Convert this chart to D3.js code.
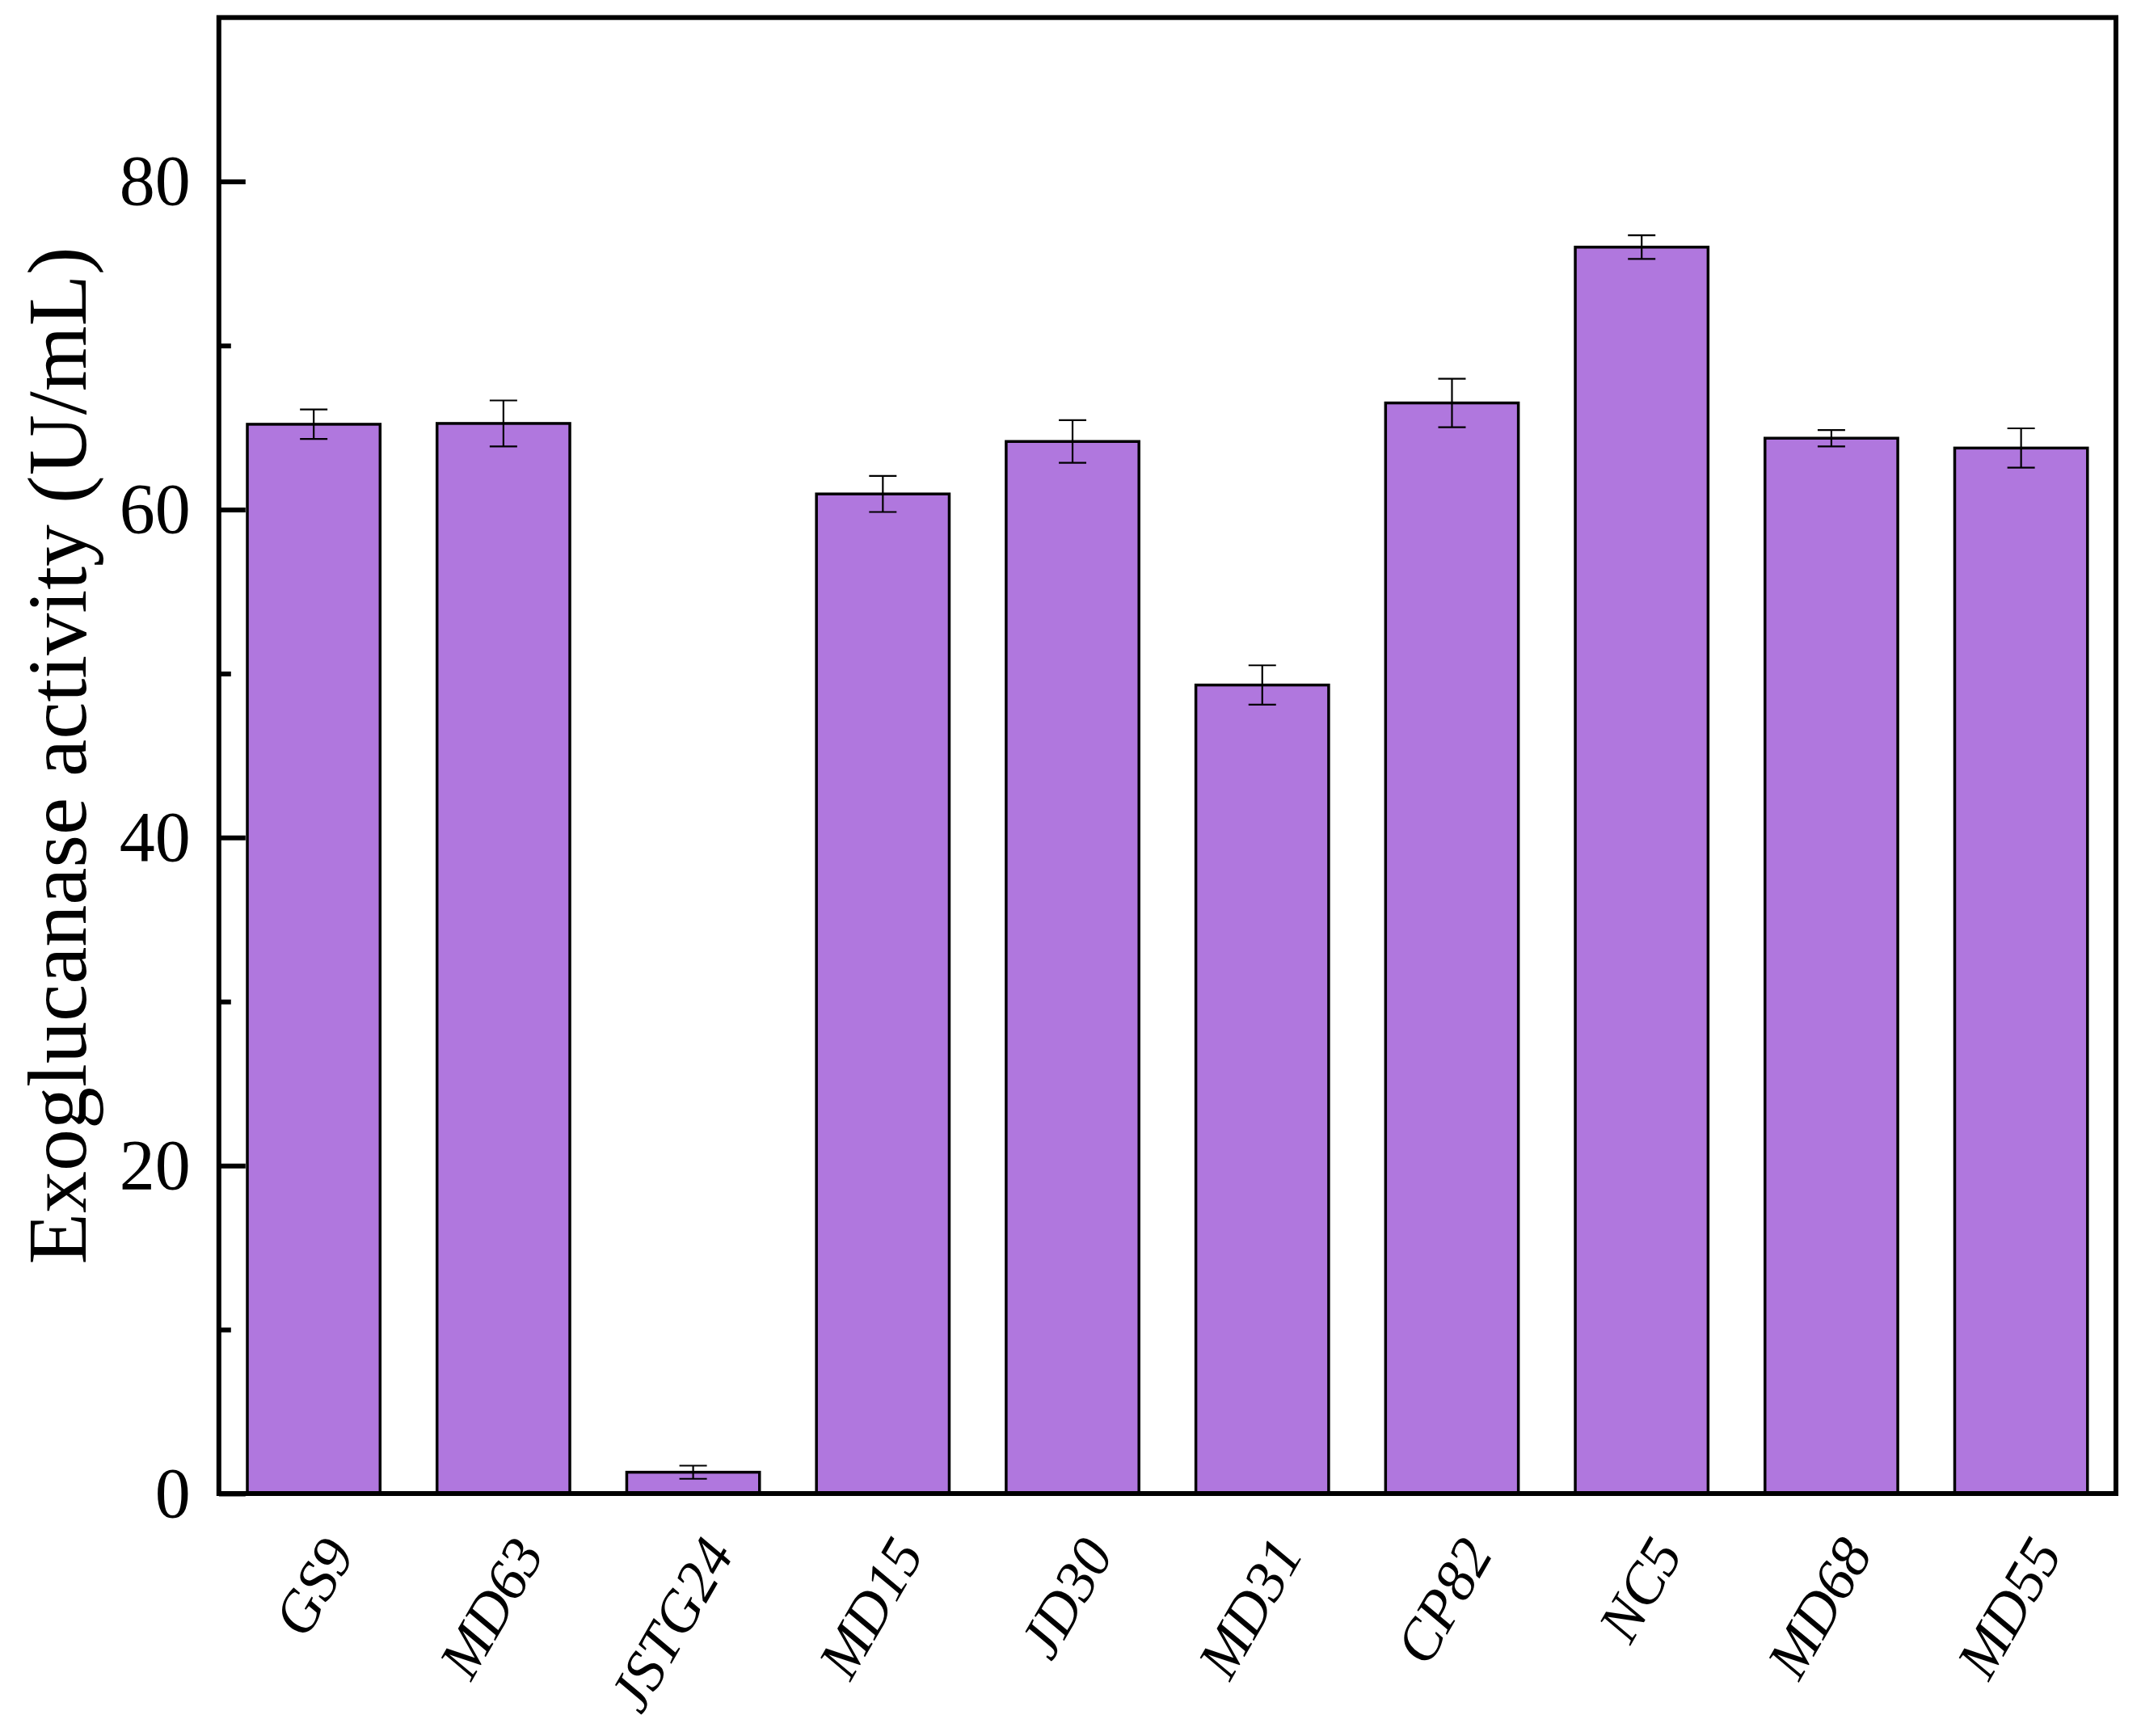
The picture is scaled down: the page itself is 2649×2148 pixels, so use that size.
<!DOCTYPE html>
<html>
<head>
<meta charset="utf-8">
<script src="https://cdn.jsdelivr.net/npm/d3@7"></script>
<style>
  html, body { margin: 0; padding: 0; background: #fff; }
  svg { display: block; }
</style>
</head>
<body>
<script>
// ---- data ----
const categories = ["GS9", "MD63", "JSTG24", "MD15", "JD30", "MD31", "CP82", "NC5", "MD68", "MD55"];
const values     = [65.2, 65.25, 1.3, 60.95, 64.15, 49.3, 66.5, 76.0, 64.35, 63.75];
const errors     = [0.9, 1.4, 0.4, 1.1, 1.3, 1.2, 1.48, 0.72, 0.5, 1.2];
const majorTicks = [0, 20, 40, 60, 80];
const minorTicks = [10, 30, 50, 70];
const yLabel = "Exoglucanase activity (U/mL)";

(function () {
// ---- layout ----
const W = 2649, H = 2148;
const pLeft = 270.8, pRight = 2618, pTop = 21.7, pBottom = 1848;
const font = "'Liberation Serif', 'Times New Roman', serif";
const barColor = "#B077DE";

const svg = d3.select("body").append("svg")
  .attr("width", W).attr("height", H)
  .attr("viewBox", `0 0 ${W} ${H}`);

svg.append("rect").attr("width", W).attr("height", H).attr("fill", "#fff");

const x = d3.scaleBand().domain(categories).range([pLeft, pRight])
  .paddingInner(0.3).paddingOuter(0.15);
const y = d3.scaleLinear().domain([0, 90]).range([pBottom, pTop]);

const data = categories.map((c, i) => ({ c, v: values[i], e: errors[i] }));

// bars
svg.append("g").selectAll("rect").data(data).join("rect")
  .attr("x", d => x(d.c))
  .attr("y", d => y(d.v))
  .attr("width", x.bandwidth())
  .attr("height", d => y(0) - y(d.v))
  .attr("fill", barColor)
  .attr("stroke", "#000")
  .attr("stroke-width", 3.5);

// error bars
const capW = 34;
const eb = svg.append("g").attr("stroke", "#000").attr("stroke-width", 2.2).attr("fill", "none");
data.forEach(d => {
  const cx = x(d.c) + x.bandwidth() / 2;
  eb.append("line").attr("x1", cx).attr("x2", cx).attr("y1", y(d.v + d.e)).attr("y2", y(d.v - d.e));
  eb.append("line").attr("x1", cx - capW / 2).attr("x2", cx + capW / 2).attr("y1", y(d.v + d.e)).attr("y2", y(d.v + d.e));
  eb.append("line").attr("x1", cx - capW / 2).attr("x2", cx + capW / 2).attr("y1", y(d.v - d.e)).attr("y2", y(d.v - d.e));
});

// y axis major ticks (inward) with labels
const yAxis = svg.append("g").attr("transform", `translate(${pLeft},0)`)
  .call(d3.axisLeft(y).tickValues(majorTicks).tickSizeInner(-33).tickSizeOuter(0).tickPadding(35).tickFormat(d3.format("d")));
yAxis.select(".domain").remove();
yAxis.selectAll(".tick line").attr("stroke", "#000").attr("stroke-width", 6);
yAxis.selectAll(".tick text")
  .attr("font-family", font).attr("font-size", 88).attr("fill", "#000")
  .attr("dy", "0.32em");

// minor ticks
const yMinor = svg.append("g").attr("transform", `translate(${pLeft},0)`)
  .call(d3.axisLeft(y).tickValues(minorTicks).tickSizeInner(-15).tickSizeOuter(0).tickFormat(""));
yMinor.select(".domain").remove();
yMinor.selectAll(".tick line").attr("stroke", "#000").attr("stroke-width", 6);

// frame
svg.append("rect")
  .attr("x", pLeft).attr("y", pTop)
  .attr("width", pRight - pLeft).attr("height", pBottom - pTop)
  .attr("fill", "none").attr("stroke", "#000").attr("stroke-width", 6);

// x labels (rotated, italic)
svg.append("g").selectAll("text").data(categories).join("text")
  .attr("transform", c => `translate(${x(c) + x.bandwidth() / 2 + 52},1922) rotate(-60)`)
  .attr("text-anchor", "end")
  .attr("font-family", font).attr("font-style", "italic").attr("font-size", 72)
  .attr("fill", "#000")
  .text(c => c);

// y label
svg.append("text")
  .attr("transform", `translate(106,${(pTop + pBottom) / 2}) rotate(-90)`)
  .attr("text-anchor", "middle")
  .attr("font-family", font).attr("font-size", 104).attr("fill", "#000")
  .text(yLabel);
})();
</script>
</body>
</html>
